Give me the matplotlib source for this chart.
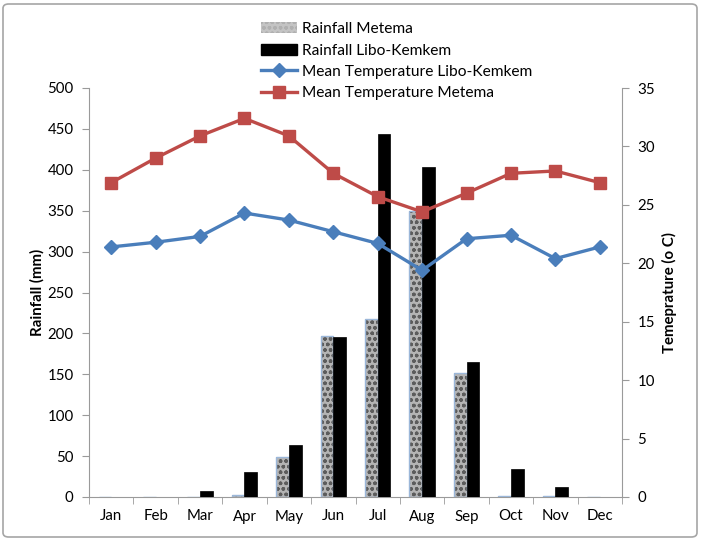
import matplotlib
matplotlib.use("Agg")
import matplotlib.pyplot as plt
import numpy as np
from matplotlib.patches import FancyBboxPatch
from matplotlib.lines import Line2D
from matplotlib.patches import Patch

plt.rcParams['font.family'] = ['Lato', 'DejaVu Sans']

months = ['Jan', 'Feb', 'Mar', 'Apr', 'May', 'Jun', 'Jul', 'Aug', 'Sep', 'Oct', 'Nov', 'Dec']
rain_metema = [0, 0, 0, 2, 49, 197, 218, 350, 151, 1, 1, 0]
rain_libo = [0, 0, 7, 31, 63, 195, 444, 404, 165, 34, 12, 0]
temp_libo = [21.4, 21.8, 22.3, 24.3, 23.7, 22.7, 21.7, 19.4, 22.1, 22.4, 20.4, 21.4]
temp_metema = [26.9, 29.0, 30.9, 32.4, 30.9, 27.7, 25.7, 24.4, 26.0, 27.7, 27.9, 26.9]

W, H = 702, 541
fig = plt.figure(figsize=(W / 100, H / 100), dpi=100)
fig.patches.append(FancyBboxPatch((3 / W, 4 / H), 694 / W, 533 / H,
                                  boxstyle="round,pad=0,rounding_size=0.008",
                                  transform=fig.transFigure, fill=False,
                                  edgecolor='#a6a6a6', linewidth=1.2))

ax = fig.add_axes([89 / W, 1 - 497 / H, (622 - 89) / W, (497 - 88) / H])
x = np.arange(len(months))
bw = 0.285
grey = '#9a9a9a'
ax.bar(x - bw / 2, rain_metema, bw, color='#b4b4b4', hatch='ooo', edgecolor='#5c5c5c', linewidth=0, zorder=2)
ax.bar(x - bw / 2, rain_metema, bw, fill=False, edgecolor='#9bb7d9', linewidth=1.0, zorder=3)
ax.bar(x + bw / 2, rain_libo, bw, color='black', edgecolor='black', linewidth=0.5, zorder=3)

ax.set_xlim(-0.5, 11.5)
ax.set_ylim(0, 500)
ax.set_yticks(np.arange(0, 501, 50))
ax.set_xticks(x)
ax.set_xticklabels(months)
ax.set_xticks(np.arange(-0.5, 12, 1), minor=True)
ax.tick_params(axis='x', which='major', length=0, pad=9, labelsize=10.8)
ax.tick_params(axis='x', which='minor', length=5, color=grey, direction='out')
ax.tick_params(axis='y', length=5, color=grey, labelsize=10.8, pad=6)
for s in ['top', 'right']:
    ax.spines[s].set_visible(False)
for s in ['left', 'bottom']:
    ax.spines[s].set_color(grey)
ax.set_ylabel('Rainfall (mm)', fontweight='bold', fontsize=10.8, labelpad=2)

ax2 = ax.twinx()
ax2.set_ylim(0, 35)
ax2.set_yticks(np.arange(0, 36, 5))
ax2.plot(x, temp_libo, color='#4a7ebb', linewidth=2.4, marker='D', markersize=7, zorder=5)
ax2.plot(x, temp_metema, color='#be4b48', linewidth=2.4, marker='s', markersize=8, zorder=5)
for s in ['top', 'left', 'bottom']:
    ax2.spines[s].set_visible(False)
ax2.spines['right'].set_color(grey)
ax2.tick_params(axis='y', length=5, color=grey, labelsize=10.8, pad=6)
ax2.set_ylabel('Temeprature (o C)', fontweight='bold', fontsize=10.8, labelpad=5)

handles = [
    Patch(facecolor='#c4c4c4', hatch='ooo', edgecolor='#b0b0b0', linewidth=0),
    Patch(facecolor='black', edgecolor='black'),
    Line2D([], [], color='#4a7ebb', linewidth=2.4, marker='D', markersize=7),
    Line2D([], [], color='#be4b48', linewidth=2.4, marker='s', markersize=8),
]
labels = ['Rainfall Metema', 'Rainfall Libo-Kemkem', 'Mean Temperature Libo-Kemkem', 'Mean Temperature Metema']
fig.legend(handles, labels, loc='upper left', bbox_to_anchor=(255 / W, 1 - 16 / H),
           frameon=False, fontsize=11.2, handlelength=2.3, handletextpad=0.3,
           labelspacing=0.47, borderaxespad=0)

fig.savefig('out.png', dpi=100)
